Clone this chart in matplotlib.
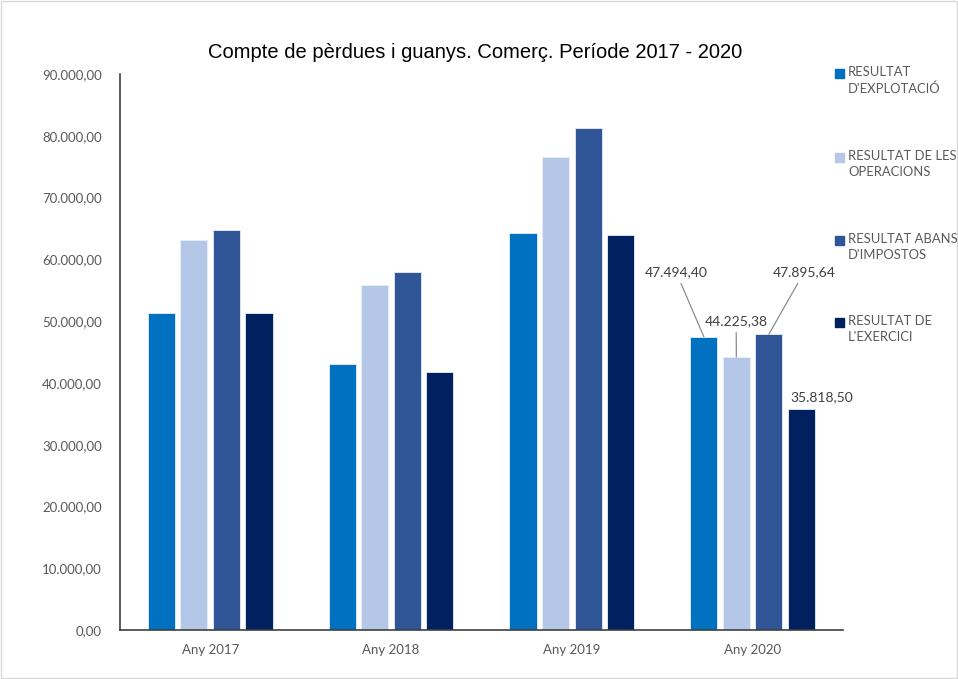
import matplotlib
matplotlib.use("Agg")
import matplotlib.pyplot as plt
from matplotlib.ticker import FuncFormatter
from matplotlib.patches import Rectangle
import numpy as np

categories = ["Any 2017", "Any 2018", "Any 2019", "Any 2020"]
series_names = ["RESULTAT\nD'EXPLOTACIÓ", "RESULTAT DE LES\nOPERACIONS",
                "RESULTAT ABANS\nD'IMPOSTOS", "RESULTAT DE\nL'EXERCICI"]
explotacio = [51400, 43000, 64200, 47494.40]
operacions = [63200, 55900, 76600, 44225.38]
abans_impostos = [64800, 57900, 81200, 47895.64]
exercici = [51400, 41700, 64000, 35818.50]
colors = ["#0070C0", "#B4C7E7", "#2F5597", "#002060"]
title = "Compte de pèrdues i guanys. Comerç. Període 2017 - 2020"

series = [explotacio, operacions, abans_impostos, exercici]

def fmt(v):
    s = f"{v:,.2f}"
    return s.replace(",", "X").replace(".", ",").replace("X", ".")

fig = plt.figure(figsize=(9.58, 6.79), dpi=100)
ax = fig.add_axes([0.125, 0.072, 0.755, 0.819])

x = np.arange(len(categories))
width = 0.15
offsets = [-0.27, -0.09, 0.09, 0.27]
for vals, c, off in zip(series, colors, offsets):
    ax.bar(x + off, vals, width, color=c, edgecolor="#e8eef8", linewidth=0.6, zorder=2)

ax.set_xlim(-0.5, 3.5)
ax.set_ylim(0, 90000)
ax.set_yticks(np.arange(0, 90001, 10000))
ax.yaxis.set_major_formatter(FuncFormatter(lambda v, p: fmt(v)))
ax.set_xticks(x)
ax.set_xticklabels(categories)
ax.tick_params(length=0, labelsize=9.5, colors="#595959", pad=10)
ax.tick_params(axis="y", pad=13)
for lab in ax.get_xticklabels() + ax.get_yticklabels():
    lab.set_fontfamily("Lato")
for s in ["top", "right"]:
    ax.spines[s].set_visible(False)
for s in ["left", "bottom"]:
    ax.spines[s].set_color("#404040")
    ax.spines[s].set_linewidth(1.2)

fig.text(0.496, 0.922, title, ha="center", va="center", fontsize=14.5,
         fontfamily="Liberation Sans", color="#000000")

# data labels for 2020
label_pos = [(2.577, 57930, True), (2.909, 50000, True), (3.285, 57930, True), (3.384, 37700, False)]
for i, (vals, off, (tx, ty, line)) in enumerate(zip(series, offsets, label_pos)):
    v = vals[3]
    if line:
        ax.annotate(fmt(v), xy=(3 + off, v), xytext=(tx, ty), ha="center", va="center",
                    fontsize=10, fontfamily="Lato", color="#404040",
                    arrowprops=dict(arrowstyle="-", color="#8c8c8c", lw=0.9,
                                    shrinkA=2, shrinkB=0))
    else:
        ax.text(tx, ty, fmt(v), ha="center", va="center", fontsize=10,
                fontfamily="Lato", color="#404040")

# legend
W, H = 958, 679
ys = [73, 157, 240, 322]
for name, c, y in zip(series_names, colors, ys):
    fig.patches.append(Rectangle((835 / W, 1 - (y + 4.5) / H), 9 / W, 9 / H,
                                 transform=fig.transFigure, color=c, figure=fig))
    fig.text(848 / W, 1 - (y - 7) / H, name, ha="left", va="top", fontsize=9.4,
             fontfamily="Lato", color="#595959", linespacing=1.4)

fig.patches.append(Rectangle((0.001, 0.001), 0.998, 0.998, transform=fig.transFigure,
                             fill=False, edgecolor="#d9d9d9", linewidth=1, figure=fig))

fig.savefig("out.png", dpi=100)
